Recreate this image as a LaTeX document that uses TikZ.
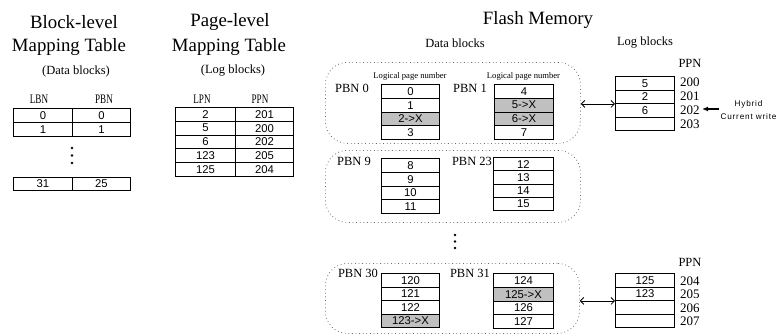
\documentclass[tikz,border=0pt]{standalone}
\usepackage{fontspec}
\setmainfont{Liberation Serif}
\setsansfont{Liberation Sans}
\newfontfamily\narrowserif[FakeStretch=0.7]{Liberation Serif}
\usetikzlibrary{arrows.meta}
\definecolor{cellgray}{RGB}{192,192,192}
\definecolor{dotgray}{RGB}{110,110,110}
\tikzset{
  title/.style={font=\fontsize{18.8}{20}\selectfont, inner sep=0pt},
  subtitle/.style={font=\fontsize{12.5}{14}\selectfont, inner sep=0pt},
  colhead/.style={font=\narrowserif\fontsize{13}{14}\selectfont, inner sep=0pt},
  pbnlabel/.style={font=\fontsize{12.5}{14}\selectfont, inner sep=0pt},
  lpnlabel/.style={font=\fontsize{8.6}{10}\selectfont, inner sep=0pt},
  ppnnum/.style={font=\fontsize{13}{14}\selectfont, inner sep=0pt, anchor=west},
  cell/.style={draw=black, line width=0.9pt, inner sep=0pt, anchor=north west,
    font=\sffamily\fontsize{11.3}{12}\selectfont},
  group/.style={draw=dotgray, line width=0.8pt, dash pattern=on 0.8pt off 2.8pt,
    rounded corners=22pt, inner sep=0pt, anchor=north west},
  link/.style={line width=0.8pt,
    {Straight Barb[length=3.5pt,width=7pt]}-{Straight Barb[length=3.5pt,width=7pt]}},
  dotmark/.style={fill=black}
}
% one column of pages: name, left x, top y, width, row height, entries text/fill
\newcommand\pagestack[6]{%
  \foreach \t/\f [count=\i from 0] in {#6} {
    \node[cell, fill=\f, minimum width=#4pt, minimum height=#5pt]
      (#1r\i) at (#2, {#3+#5*\i}) {\t};
  }}
\begin{document}
\begin{tikzpicture}[x=1pt,y=-1pt]
\useasboundingbox (0,0) rectangle (776,335);

% ---------- block-level mapping table ----------
\node[title] (bt1) at (74,22) {Block-level};
\node[title] (bt2) at (69,47) {Mapping Table};
\node[subtitle] (bt3) at (76,71) {(Data blocks)};
\node[colhead] (lbnh) at (39,99) {LBN};
\node[colhead] (pbnh) at (104,99) {PBN};
\pagestack{bl}{13}{108}{59}{14}{0/white,1/white}
\pagestack{br}{72}{108}{58}{14}{0/white,1/white}
\fill[dotmark] (72,148) circle (1.3);
\fill[dotmark] (72,155.5) circle (1.3);
\fill[dotmark] (72,163) circle (1.3);
\pagestack{blz}{13}{177}{59}{13}{31/white}
\pagestack{brz}{72}{177}{58}{13}{25/white}

% ---------- page-level mapping table ----------
\node[title] (pt1) at (230,22) {Page-level};
\node[title] (pt2) at (229,47) {Mapping Table};
\node[subtitle] (pt3) at (233,71) {(Log blocks)};
\node[colhead] (lpnh) at (202,99) {LPN};
\node[colhead] (ppnh) at (260,99) {PPN};
\pagestack{pl}{175}{107}{60}{13.8}{2/white,5/white,6/white,123/white,125/white}
\pagestack{pr}{235}{107}{58}{13.8}{201/white,200/white,202/white,205/white,204/white}

% ---------- flash memory ----------
\node[title] (fm) at (538,20) {Flash Memory};
\node[subtitle] (dbh) at (455,43) {Data blocks};
\node[subtitle] (lbh) at (645,43) {Log blocks};

% data block groups
\node[group, minimum width=255pt, minimum height=81pt] (grp1) at (325,62) {};
\node[group, minimum width=255pt, minimum height=72pt] (grp2) at (325,150) {};
\node[group, minimum width=254pt, minimum height=70pt] (grp3) at (325,263) {};

\node[lpnlabel] (lpn0) at (410,76) {Logical page number};
\node[lpnlabel] (lpn1) at (523.5,76) {Logical page number};

\node[pbnlabel] (pbn0) at (352,88) {PBN 0};
\node[pbnlabel] (pbn1) at (470,88) {PBN 1};
\pagestack{pa}{381}{84}{58}{13.8}{0/white,1/white,2->X/cellgray,3/white}
\pagestack{pb}{494}{84}{59}{13.8}{4/white,5->X/cellgray,6->X/cellgray,7/white}

\node[pbnlabel] (pbn9) at (354,161) {PBN 9};
\node[pbnlabel] (pbn23) at (472,161) {PBN 23};
\pagestack{pc}{381}{158}{58}{13.8}{8/white,9/white,10/white,11/white}
\pagestack{pd}{493}{157}{60}{13.3}{12/white,13/white,14/white,15/white}

\fill[dotmark] (455,235) circle (1.3);
\fill[dotmark] (455,241.5) circle (1.3);
\fill[dotmark] (455,248) circle (1.3);

\node[pbnlabel] (pbn30) at (358,273) {PBN 30};
\node[pbnlabel] (pbn31) at (470,273) {PBN 31};
\pagestack{pe}{381}{273}{58}{13.5}{120/white,121/white,122/white,123->X/cellgray}
\pagestack{pf}{493}{273}{60}{13.8}{124/white,125->X/cellgray,126/white,127/white}

% log blocks
\node[pbnlabel] (ppn1) at (690,63) {PPN};
\pagestack{lga}{615}{76}{59}{13.5}{5/white,2/white,6/white,{}/white}
\node[ppnnum] (n200) at (680,82) {200};
\node[ppnnum] (n201) at (680,96) {201};
\node[ppnnum] (n202) at (680,110) {202};
\node[ppnnum] (n203) at (680,124) {203};

\node[pbnlabel] (ppn2) at (690,262) {PPN};
\pagestack{lgb}{615}{273}{59}{13.5}{125/white,123/white,{}/white,{}/white}
\node[ppnnum] (n204) at (680,281) {204};
\node[ppnnum] (n205) at (680,294) {205};
\node[ppnnum] (n206) at (680,308) {206};
\node[ppnnum] (n207) at (680,321) {207};

% links between data block groups and log blocks
\draw[link] (grp1.east |- lgar1.south west) -- (lgar1.south west);
\draw[link] (grp3.east |- lgbr1.south west) -- (lgbr1.south west);

% current write pointer
\node[font=\sffamily\fontsize{8.2}{13}\selectfont\addfontfeature{LetterSpace=10},
  align=center, inner sep=1pt] (hyb) at (748.5,110.5) {Hybrid\\Current write};
\coordinate (cw) at (702,109);
\draw[line width=1.2pt, -{Latex[length=6pt,width=5pt]}] (hyb.west |- cw) -- (cw);
\end{tikzpicture}
\end{document}
